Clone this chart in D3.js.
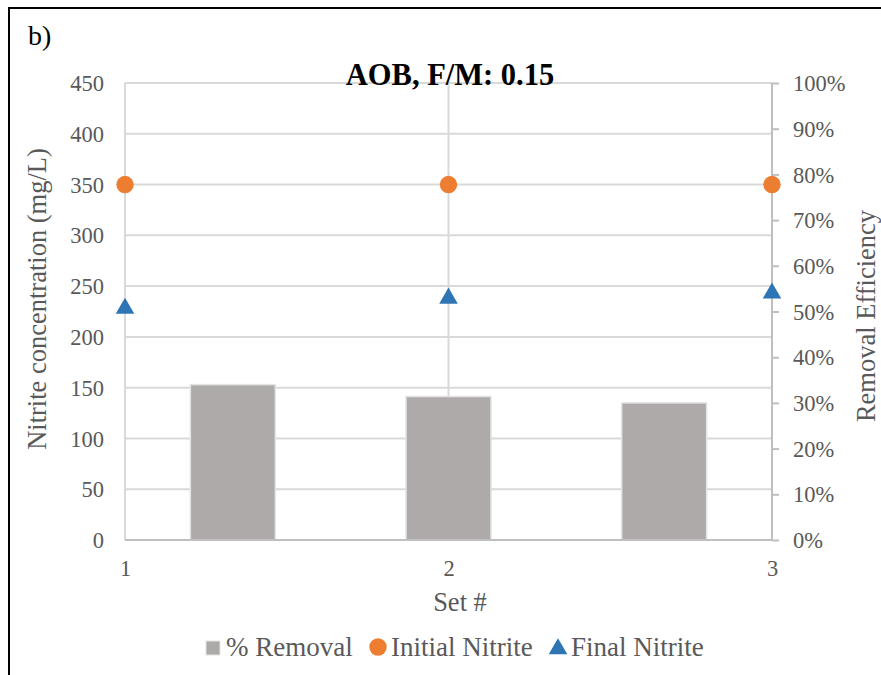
<!DOCTYPE html>
<html>
<head>
<meta charset="utf-8">
<script src="https://cdn.jsdelivr.net/npm/d3@7"></script>
<style>
  html, body { margin: 0; padding: 0; background: #fff; }
  svg { display: block; }
  text { font-family: "Liberation Serif", "Times New Roman", serif; }
</style>
</head>
<body>
<svg id="chart" width="881" height="675"></svg>
<script>
// ---- data ----
const categories = [1, 2, 3];
const removalPct = [0.340, 0.314, 0.300];
const initialNitrite = [350, 350, 350];
const finalNitrite = [230, 240, 245];
const leftTicks = [0, 50, 100, 150, 200, 250, 300, 350, 400, 450];
const rightTicks = [0, 0.1, 0.2, 0.3, 0.4, 0.5, 0.6, 0.7, 0.8, 0.9, 1.0];
const xTicks = [1, 2, 3];
const legendItems = ["% Removal", "Initial Nitrite", "Final Nitrite"];

// ---- layout ----
const svg = d3.select("#chart");
const L = 125, R = 772, T = 83, B = 540;
const gridColor = "#d9d9d9", axisColor = "#bfbfbf", textColor = "#595959";
const cBar = "#aeaaaa", cInit = "#ed7d31", cFinal = "#2e75b6";

const x = d3.scaleLinear().domain([1, 3]).range([L, R]);
const xBand = d3.scaleBand().domain(categories).range([L, R]).paddingInner(0.606).paddingOuter(0.303);
const y = d3.scaleLinear().domain([0, 450]).range([B, T]);
const y2 = d3.scaleLinear().domain([0, 1]).range([B, T]);

// frame
svg.append("path").attr("d", "M9,675V8H881").attr("fill", "none").attr("stroke", "#000").attr("stroke-width", 2);

// "b)"
svg.append("text").attr("x", 28).attr("y", 45).attr("font-size", 28).attr("fill", "#000").text("b)");

// horizontal gridlines
svg.append("g").selectAll("line").data(leftTicks.filter(d => d > 0)).join("line")
  .attr("x1", L).attr("x2", R).attr("y1", d => y(d)).attr("y2", d => y(d))
  .attr("stroke", gridColor).attr("stroke-width", 2);
// vertical gridlines
svg.append("g").selectAll("line").data(xTicks).join("line")
  .attr("x1", d => x(d)).attr("x2", d => x(d)).attr("y1", T).attr("y2", B)
  .attr("stroke", gridColor).attr("stroke-width", 2);

// bars (secondary axis)
svg.append("g").selectAll("rect").data(categories).join("rect")
  .attr("x", d => xBand(d)).attr("width", xBand.bandwidth())
  .attr("y", (d, i) => y2(removalPct[i])).attr("height", (d, i) => B - y2(removalPct[i]))
  .attr("fill", cBar).attr("stroke", "#e4e3e3").attr("stroke-width", 1.5);

// x axis line
svg.append("line").attr("x1", L).attr("x2", R).attr("y1", B).attr("y2", B)
  .attr("stroke", axisColor).attr("stroke-width", 2);

// right axis
const rAxis = svg.append("g").attr("transform", `translate(${R},0)`)
  .call(d3.axisRight(y2).tickValues(rightTicks).tickSize(7).tickPadding(14).tickFormat(d3.format(".0%")));
rAxis.select(".domain").attr("stroke", axisColor).attr("stroke-width", 2).attr("d", `M0,${T}V${B}`);
rAxis.selectAll(".tick line").attr("stroke", axisColor).attr("stroke-width", 2);
rAxis.selectAll("text").attr("fill", textColor).attr("font-size", 22.5)
  .attr("font-family", "Liberation Serif, Times New Roman, serif").attr("dy", "0.34em");

// left axis labels
const lAxis = svg.append("g").attr("transform", `translate(${L},0)`)
  .call(d3.axisLeft(y).tickValues(leftTicks).tickSize(0).tickPadding(21));
lAxis.select(".domain").remove();
lAxis.selectAll("text").attr("fill", textColor).attr("font-size", 22.5)
  .attr("font-family", "Liberation Serif, Times New Roman, serif").attr("dy", "0.34em");

// bottom axis labels
const bAxis = svg.append("g").attr("transform", `translate(0,${B})`)
  .call(d3.axisBottom(x).tickValues(xTicks).tickSize(0).tickPadding(20).tickFormat(d3.format("d")));
bAxis.select(".domain").remove();
bAxis.selectAll("text").attr("fill", textColor).attr("font-size", 22.5)
  .attr("font-family", "Liberation Serif, Times New Roman, serif").attr("dy", "0.71em");

// markers
const tri = d3.symbol().type(d3.symbolTriangle).size(150);
svg.append("g").selectAll("circle").data(categories).join("circle")
  .attr("cx", d => x(d)).attr("cy", (d, i) => y(initialNitrite[i])).attr("r", 8.7).attr("fill", cInit);
svg.append("g").selectAll("path").data(categories).join("path")
  .attr("d", tri).attr("transform", (d, i) => `translate(${x(d)},${y(finalNitrite[i]) + 2})`).attr("fill", cFinal);

// title
svg.append("text").attr("x", 450).attr("y", 85).attr("text-anchor", "middle")
  .attr("font-size", 30.5).attr("font-weight", "bold").attr("fill", "#000").text("AOB, F/M: 0.15");

// axis titles
svg.append("text").attr("transform", "translate(46,299) rotate(-90)").attr("text-anchor", "middle")
  .attr("font-size", 26.5).attr("fill", textColor).text("Nitrite concentration (mg/L)");
svg.append("text").attr("transform", "translate(875,316) rotate(-90)").attr("text-anchor", "middle")
  .attr("font-size", 26.5).attr("fill", textColor).text("Removal Efficiency");
svg.append("text").attr("x", 460).attr("y", 611).attr("text-anchor", "middle")
  .attr("font-size", 26.5).attr("fill", textColor).text("Set #");

// legend
const lg = svg.append("g");
const ly = 656;
lg.append("rect").attr("x", 206).attr("y", 641).attr("width", 14).attr("height", 14).attr("fill", cBar)
  .attr("stroke", "#e4e3e3").attr("stroke-width", 1);
lg.append("text").attr("x", 226).attr("y", ly).attr("font-size", 27).attr("fill", textColor).text(legendItems[0]);
lg.append("circle").attr("cx", 378).attr("cy", 647).attr("r", 8.7).attr("fill", cInit);
lg.append("text").attr("x", 391).attr("y", ly).attr("font-size", 27).attr("fill", textColor).text(legendItems[1]);
lg.append("path").attr("d", tri).attr("transform", "translate(558,649)").attr("fill", cFinal);
lg.append("text").attr("x", 571).attr("y", ly).attr("font-size", 27).attr("fill", textColor).text(legendItems[2]);
</script>
</body>
</html>
